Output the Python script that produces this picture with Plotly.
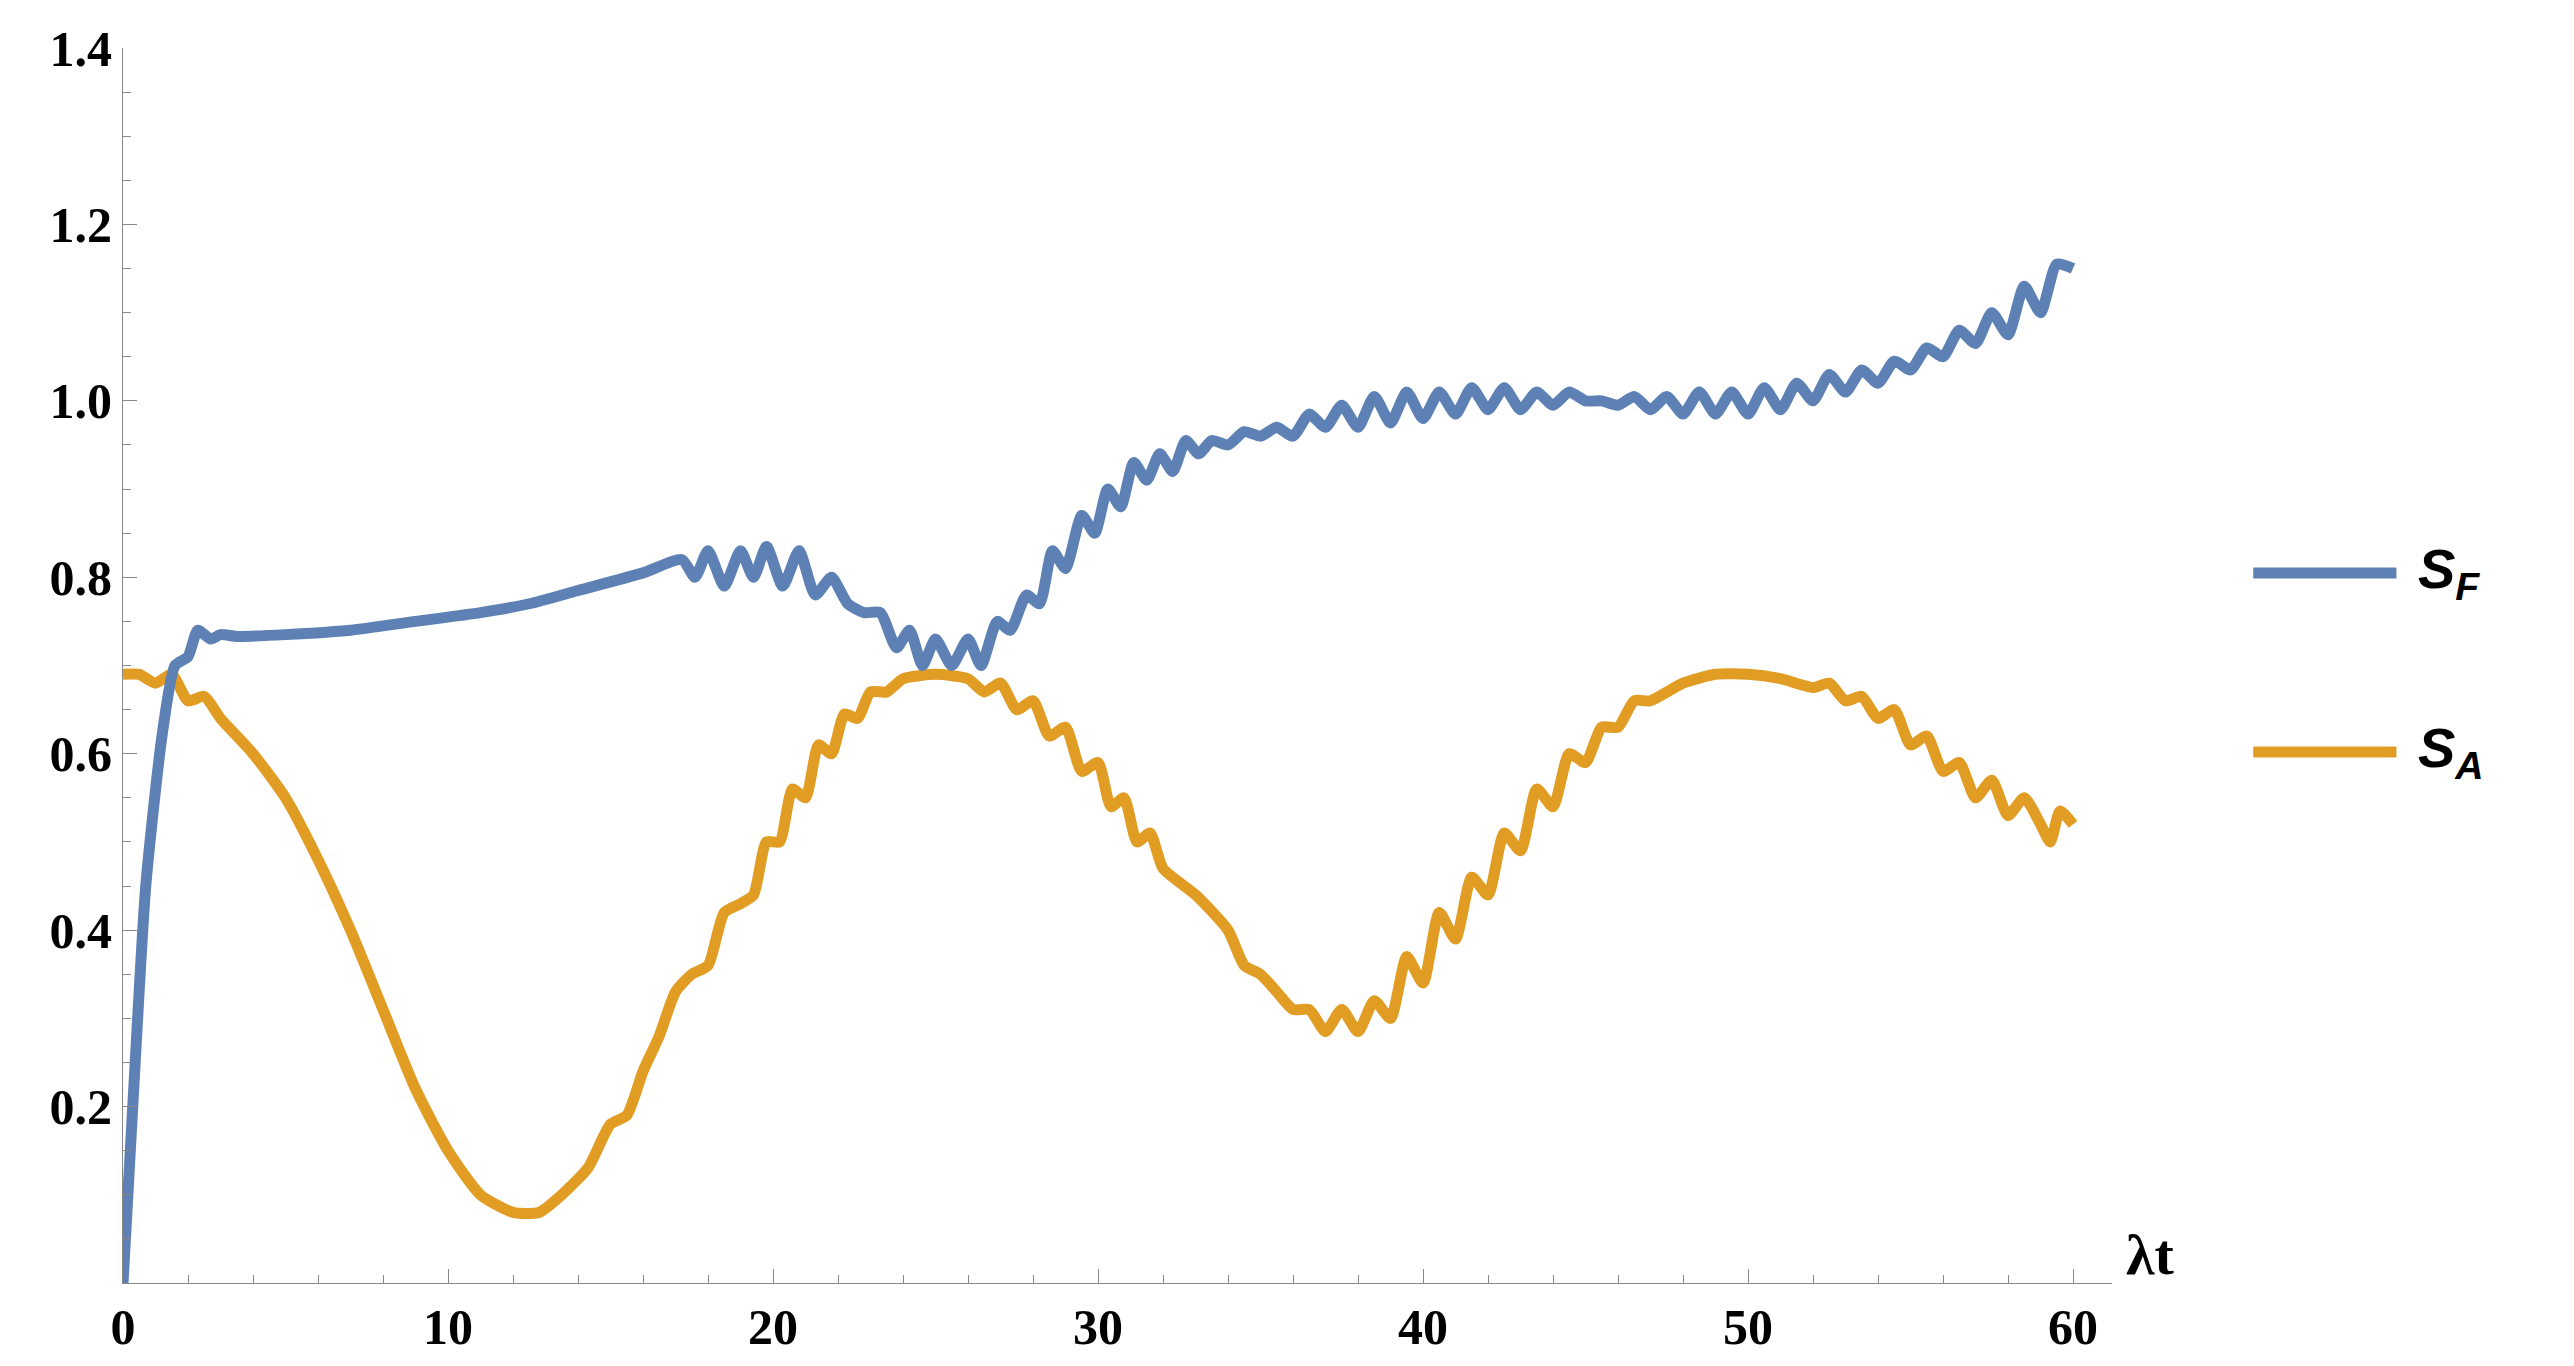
import plotly.graph_objects as go

# blue curve S_F
t_f = [0, 0.3, 0.7, 1.2, 1.6, 2.0, 2.3, 2.7, 3.0, 3.5, 5, 7, 9, 11, 12.5, 14, 16, 17.2,
       17.6, 18.0, 18.5, 19.0, 19.4, 19.8, 20.3, 20.8, 21.3, 21.8, 22.3, 22.8, 23.3, 23.8,
       24.2, 24.6, 25.0, 25.5, 26.0, 26.4, 26.9, 27.3, 27.8, 28.2, 28.6, 29.0, 29.5, 29.9,
       30.3, 30.7, 31.1, 31.5, 31.9, 32.3, 32.7, 33.1, 33.5, 34, 34.5, 35, 35.5, 36, 36.5,
       37, 37.5, 38, 38.5, 39, 39.5, 40, 40.5, 41, 41.5, 42, 42.5, 43, 43.5, 44, 44.5, 45,
       45.5, 46, 46.5, 47, 47.5, 48, 48.5, 49, 49.5, 50, 50.5, 51, 51.5, 52, 52.5, 53, 53.5,
       54, 54.5, 55, 55.5, 56, 56.5, 57, 57.5, 58, 58.5, 59, 59.5, 60]
s_f = [0, 0.2, 0.45, 0.62, 0.70, 0.71, 0.74, 0.73, 0.735, 0.733, 0.735, 0.74, 0.75, 0.76,
       0.77, 0.785, 0.805, 0.82, 0.80, 0.83, 0.79, 0.83, 0.80, 0.835, 0.79, 0.83, 0.78, 0.80,
       0.77, 0.76, 0.76, 0.72, 0.74, 0.70, 0.73, 0.70, 0.73, 0.70, 0.75, 0.74, 0.78, 0.77,
       0.83, 0.81, 0.87, 0.85, 0.90, 0.88, 0.93, 0.91, 0.94, 0.92, 0.955, 0.94, 0.955, 0.95,
       0.965, 0.96, 0.97, 0.96, 0.985, 0.97, 0.995, 0.97, 1.005, 0.975, 1.01, 0.98, 1.01,
       0.985, 1.015, 0.99, 1.015, 0.99, 1.01, 0.995, 1.01, 1.0, 1.0, 0.995, 1.005, 0.99,
       1.005, 0.985, 1.01, 0.985, 1.01, 0.985, 1.015, 0.99, 1.02, 1.0, 1.03, 1.01, 1.035,
       1.02, 1.045, 1.035, 1.06, 1.05, 1.08, 1.065, 1.10, 1.075, 1.13, 1.10, 1.155, 1.15]

# orange curve S_A
t_a = [0, 0.5, 1, 1.5, 2, 2.5, 3, 4, 5, 6, 7, 8, 9, 10, 11, 12, 12.8, 13.5, 14.3, 15, 15.5,
       16, 16.5, 17, 17.5, 18, 18.5, 19, 19.4, 19.8, 20.2, 20.6, 21, 21.4, 21.8, 22.2, 22.6,
       23, 23.5, 24, 25, 26, 26.5, 27, 27.5, 28, 28.5, 29, 29.5, 30, 30.4, 30.8, 31.2, 31.6,
       32, 33, 34, 34.5, 35, 35.5, 36, 36.5, 37, 37.5, 38, 38.5, 39, 39.5, 40, 40.5, 41,
       41.5, 42, 42.5, 43, 43.5, 44, 44.5, 45, 45.5, 46, 46.5, 47, 48, 49, 50, 51, 52, 52.5,
       53, 53.5, 54, 54.5, 55, 55.5, 56, 56.5, 57, 57.5, 58, 58.5, 59, 59.3, 59.6, 60]
s_a = [0.69, 0.69, 0.68, 0.69, 0.66, 0.665, 0.64, 0.60, 0.55, 0.48, 0.40, 0.31, 0.22, 0.15,
       0.10, 0.08, 0.08, 0.10, 0.13, 0.18, 0.19, 0.24, 0.28, 0.33, 0.35, 0.36, 0.42, 0.43,
       0.44, 0.50, 0.50, 0.56, 0.55, 0.61, 0.60, 0.645, 0.64, 0.67, 0.67, 0.685, 0.69, 0.685,
       0.67, 0.68, 0.65, 0.66, 0.62, 0.63, 0.58, 0.59, 0.54, 0.55, 0.50, 0.51, 0.47, 0.44,
       0.40, 0.36, 0.35, 0.33, 0.31, 0.31, 0.285, 0.31, 0.285, 0.32, 0.30, 0.37, 0.34, 0.42,
       0.39, 0.46, 0.44, 0.51, 0.49, 0.56, 0.54, 0.60, 0.59, 0.63, 0.63, 0.66, 0.66, 0.68,
       0.69, 0.69, 0.685, 0.675, 0.68, 0.66, 0.665, 0.64, 0.65, 0.61, 0.62, 0.58, 0.59, 0.55,
       0.57, 0.53, 0.55, 0.52, 0.50, 0.535, 0.52]

BLUE = "#5e81b5"
ORANGE = "#e19c24"

fig = go.Figure()
fig.add_trace(go.Scatter(x=t_a, y=s_a, mode="lines",
                         line=dict(color=ORANGE, width=11, shape="spline", smoothing=0.6),
                         showlegend=False))
fig.add_trace(go.Scatter(x=t_f, y=s_f, mode="lines",
                         line=dict(color=BLUE, width=11, shape="spline", smoothing=0.6),
                         showlegend=False))

tickfont = dict(family="Liberation Serif", size=50, color="black", weight="bold")
fig.update_xaxes(range=[0, 61.2], tickvals=[0, 10, 20, 30, 40, 50, 60], ticks="inside",
                 ticklen=14, tickcolor="#888", showline=True, linecolor="#888",
                 minor=dict(dtick=2, ticks="inside", ticklen=8, tickcolor="#888"),
                 showgrid=False, zeroline=False, tickfont=tickfont)
fig.update_yaxes(range=[0, 1.4], tickvals=[0.2, 0.4, 0.6, 0.8, 1.0, 1.2, 1.4],
                 ticktext=["0.2", "0.4", "0.6", "0.8", "1.0", "1.2", "1.4"],
                 ticks="inside", ticklen=14, tickcolor="#888", showline=True,
                 linecolor="#888",
                 minor=dict(dtick=0.05, ticks="inside", ticklen=8, tickcolor="#888"),
                 showgrid=False, zeroline=False, tickfont=tickfont)

# legend drawn manually
for yy, col, lab in [(0.575, BLUE, "S<sub>F</sub>"), (0.43, ORANGE, "S<sub>A</sub>")]:
    fig.add_shape(type="line", xref="paper", yref="paper", x0=1.071, x1=1.143, y0=yy, y1=yy,
                  line=dict(color=col, width=11))
    fig.add_annotation(xref="paper", yref="paper", x=1.153, y=yy, text=f"<b><i>{lab}</i></b>",
                       showarrow=False, xanchor="left",
                       font=dict(family="Liberation Sans", size=56, color="black"))

fig.add_annotation(xref="paper", yref="paper", x=1.006, y=-0.005, text="<b>λt</b>",
                   showarrow=False, xanchor="left", yanchor="bottom",
                   font=dict(family="Liberation Serif", size=58, color="black"))

fig.update_layout(width=2574, height=1366, plot_bgcolor="white", paper_bgcolor="white",
                  margin=dict(l=115, r=470, t=33, b=91))

fig.write_html("out.html")
